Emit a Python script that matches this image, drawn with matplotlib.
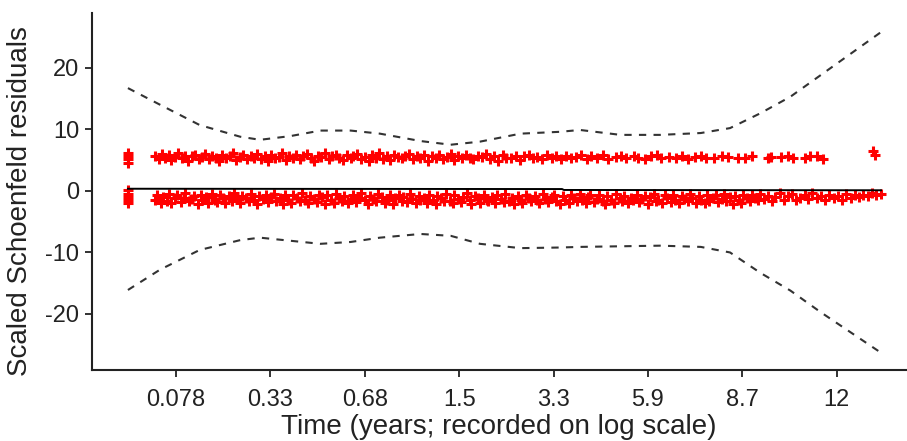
import matplotlib.pyplot as plt

plt.rcParams['font.family'] = ['Liberation Sans', 'DejaVu Sans']
plt.rcParams['axes.unicode_minus'] = False

# time axis is drawn on a transformed scale; labels give the real times in years
tick_pos = [1, 2, 3, 4, 5, 6, 7, 8]
tick_labels = ['0.078', '0.33', '0.68', '1.5', '3.3', '5.9', '8.7', '12']

# residuals tied at the first event time
tie_time = 0.49
tie_upper = [4.6, 5.1, 5.6, 6.1]
tie_lower = [0.1, -0.5, -1.0, -1.5, -2.0]

upper_time = [
    0.78, 0.82, 0.85, 0.88, 0.92, 0.95, 0.99, 1.02, 1.06, 1.09,
    1.13, 1.17, 1.20, 1.24, 1.27, 1.31, 1.35, 1.38, 1.42, 1.46,
    1.49, 1.53, 1.57, 1.60, 1.64, 1.68, 1.71, 1.75, 1.79, 1.83,
    1.86, 1.90, 1.94, 1.97, 2.01, 2.05, 2.09, 2.12, 2.16, 2.20,
    2.24, 2.27, 2.31, 2.35, 2.39, 2.43, 2.46, 2.50, 2.54, 2.58,
    2.62, 2.65, 2.69, 2.73, 2.77, 2.81, 2.85, 2.88, 2.92, 2.96,
    3.00, 3.04, 3.08, 3.12, 3.15, 3.19, 3.23, 3.27, 3.31, 3.35,
    3.39, 3.43, 3.47, 3.51, 3.55, 3.59, 3.63, 3.67, 3.71, 3.75,
    3.79, 3.83, 3.87, 3.91, 3.95, 3.99, 4.03, 4.07, 4.11, 4.15,
    4.20, 4.24, 4.28, 4.33, 4.37, 4.41, 4.46, 4.50, 4.55, 4.60,
    4.64, 4.69, 4.74, 4.78, 4.83, 4.88, 4.93, 4.98, 5.03, 5.08,
    5.13, 5.19, 5.24, 5.29, 5.35, 5.40, 5.46, 5.52, 5.58, 5.66,
    5.71, 5.77, 5.85, 5.90, 5.97, 6.03, 6.10, 6.14, 6.22, 6.30,
    6.36, 6.42, 6.50, 6.56, 6.62, 6.70, 6.78, 6.85, 6.95, 7.03,
    7.10, 7.27, 7.30, 7.41, 7.48, 7.54, 7.66, 7.72, 7.79, 7.86,
    8.39, 8.41,
]
upper_resid = [
    5.6, 5.1, 6.0, 5.4, 5.8, 5.0, 5.5, 6.1, 5.3, 5.7,
    4.9, 5.6, 5.9, 5.2, 5.5, 6.0, 5.1, 5.7, 5.4, 4.8,
    5.8, 5.3, 5.6, 6.1, 5.0, 5.5, 5.9, 5.2, 5.7, 5.4,
    6.0, 5.1, 5.6, 4.9, 5.8, 5.3, 5.5, 6.1, 5.0, 5.7,
    5.4, 5.9, 5.2, 5.6, 6.0, 5.3, 4.8, 5.7, 5.5, 6.2,
    5.1, 5.6, 5.9, 5.4, 5.0, 5.8, 5.3, 5.7, 6.0, 5.2,
    5.5, 4.9, 5.8, 5.4, 6.1, 5.2, 5.6, 5.0, 5.9, 5.5,
    5.3, 5.7, 6.0, 5.1, 5.6, 5.4, 5.9, 4.9, 5.7, 5.3,
    5.8, 5.2, 5.5, 6.0, 5.0, 5.6, 5.3, 5.9, 5.4, 5.1,
    5.7, 5.5, 6.0, 5.2, 5.6, 4.9, 5.8, 5.4, 5.3, 5.7,
    5.0, 5.6, 5.9, 5.3, 5.5, 5.1, 5.8, 5.4, 5.6, 5.2,
    5.7, 5.3, 5.5, 5.9, 5.1, 5.6, 5.4, 5.8, 5.2, 5.5,
    5.6, 5.3, 5.7, 5.4, 5.2, 5.6, 5.8, 5.3, 5.5, 5.4,
    5.7, 5.2, 5.5, 5.6, 5.3, 5.4, 5.6, 5.5, 5.3, 5.4,
    5.6, 5.4, 5.5, 5.5, 5.6, 5.4, 5.3, 5.6, 5.7, 5.2,
    6.4, 5.8,
]

lower_time = [
    0.78, 0.80, 0.84, 0.86, 0.90, 0.93, 0.95, 0.99, 1.01, 1.05,
    1.08, 1.10, 1.14, 1.17, 1.19, 1.23, 1.26, 1.28, 1.32, 1.34,
    1.38, 1.41, 1.43, 1.47, 1.50, 1.52, 1.56, 1.59, 1.61, 1.65,
    1.68, 1.70, 1.74, 1.77, 1.79, 1.83, 1.86, 1.88, 1.92, 1.95,
    1.97, 2.01, 2.04, 2.06, 2.10, 2.13, 2.15, 2.19, 2.22, 2.24,
    2.28, 2.31, 2.33, 2.37, 2.40, 2.42, 2.46, 2.49, 2.51, 2.55,
    2.58, 2.60, 2.64, 2.67, 2.69, 2.73, 2.76, 2.78, 2.82, 2.85,
    2.87, 2.91, 2.94, 2.96, 3.00, 3.03, 3.05, 3.09, 3.12, 3.14,
    3.18, 3.21, 3.23, 3.27, 3.30, 3.32, 3.36, 3.39, 3.41, 3.45,
    3.48, 3.50, 3.54, 3.57, 3.59, 3.63, 3.66, 3.68, 3.72, 3.75,
    3.77, 3.81, 3.84, 3.86, 3.90, 3.93, 3.95, 3.99, 4.02, 4.04,
    4.08, 4.11, 4.13, 4.17, 4.20, 4.22, 4.26, 4.29, 4.31, 4.35,
    4.38, 4.40, 4.44, 4.47, 4.49, 4.53, 4.56, 4.58, 4.62, 4.65,
    4.67, 4.71, 4.74, 4.76, 4.80, 4.83, 4.85, 4.89, 4.92, 4.94,
    4.98, 5.01, 5.03, 5.07, 5.10, 5.12, 5.16, 5.19, 5.21, 5.25,
    5.28, 5.30, 5.34, 5.37, 5.39, 5.43, 5.46, 5.48, 5.52, 5.55,
    5.57, 5.61, 5.64, 5.66, 5.70, 5.73, 5.75, 5.79, 5.82, 5.84,
    5.88, 5.91, 5.93, 5.97, 6.00, 6.02, 6.06, 6.09, 6.11, 6.15,
    6.18, 6.20, 6.24, 6.27, 6.29, 6.33, 6.36, 6.38, 6.42, 6.45,
    6.47, 6.51, 6.54, 6.56, 6.60, 6.63, 6.65, 6.69, 6.72, 6.74,
    6.78, 6.81, 6.83, 6.87, 6.90, 6.92, 6.96, 6.99, 7.01, 7.05,
    7.08, 7.10, 7.14, 7.17, 7.19, 7.23, 7.27, 7.31, 7.35, 7.40,
    7.44, 7.48, 7.53, 7.57, 7.61, 7.66, 7.70, 7.74, 7.79, 7.83,
    7.88, 7.92, 7.97, 8.01, 8.06, 8.10, 8.15, 8.19, 8.24, 8.28,
    8.33, 8.37, 8.42, 8.47,
]
lower_resid = [
    -1.4, -0.6, -1.9, -1.0, -1.6, -0.5, -2.0, -1.2, -0.7, -1.8,
    -1.1, -0.4, -1.7, -1.3, -0.8, -2.1, -0.6, -1.5, -1.0, -1.9,
    -0.5, -1.4, -1.8, -0.7, -1.2, -2.0, -0.9, -1.6, -0.4, -1.3,
    -1.9, -0.8, -1.1, -1.7, -0.5, -1.5, -2.1, -0.9, -1.3, -0.6,
    -1.8, -1.0, -0.5, -1.6, -1.2, -2.2, -0.7, -1.4, -1.9, -0.6,
    -1.1, -1.7, -0.4, -1.5, -2.0, -0.8, -1.3, -1.8, -0.6, -1.0,
    -2.1, -0.7, -1.4, -1.9, -0.5, -1.2, -1.6, -0.9, -2.0, -1.3,
    -0.6, -1.8, -1.1, -0.4, -1.5, -2.1, -0.8, -1.3, -1.7, -0.5,
    -1.0, -1.9, -1.4, -0.7, -2.2, -1.2, -0.6, -1.6, -1.0, -1.8,
    -0.5, -1.3, -2.0, -0.8, -1.5, -1.1, -1.9, -0.6, -1.4, -2.1,
    -0.9, -1.2, -1.7, -0.5, -1.6, -2.0, -0.7, -1.3, -1.8, -1.0,
    -0.4, -1.5, -2.1, -0.8, -1.2, -1.9, -0.6, -1.4, -1.7, -1.0,
    -2.0, -0.7, -1.3, -1.8, -0.5, -1.6, -1.1, -2.2, -0.8, -1.4,
    -1.9, -0.6, -1.2, -1.7, -0.9, -1.5, -2.0, -0.5, -1.3, -1.8,
    -1.0, -0.6, -1.6, -2.1, -0.8, -1.4, -1.9, -0.7, -1.2, -1.7,
    -0.5, -1.5, -2.0, -1.0, -0.7, -1.8, -1.3, -0.6, -1.6, -2.1,
    -0.9, -1.4, -1.9, -0.5, -1.2, -1.7, -0.8, -2.0, -1.1, -1.5,
    -0.6, -1.8, -1.3, -0.9, -2.1, -1.0, -0.5, -1.6, -1.4, -1.9,
    -0.7, -1.2, -1.8, -0.6, -1.5, -2.0, -0.9, -1.3, -1.7, -0.5,
    -1.1, -1.9, -0.8, -1.4, -2.0, -0.6, -1.6, -1.2, -0.7, -1.8,
    -1.3, -0.5, -1.7, -1.0, -2.1, -0.8, -1.4, -1.9, -0.6, -1.2,
    -1.6, -0.7, -1.1, -1.5, -0.5, -1.3, -0.8, -1.6, -1.0, -0.4,
    -1.4, -0.9, -0.5, -1.5, -1.1, -0.7, -1.3, -0.4, -1.2, -0.8,
    -1.5, -0.6, -1.1, -0.9, -1.4, -0.5, -1.2, -0.7, -1.0, -0.6,
    -0.9, -0.4, -0.7, -0.5,
]

# smoothed beta(t) with its confidence limits
fit_time = [0.49, 2.0, 4.0, 5.09, 5.11, 7.0, 8.47]
fit_beta = [0.35, 0.33, 0.31, 0.30, 0.15, 0.12, 0.10]

ci_time = [0.49, 0.83, 1.25, 1.68, 1.89, 2.21, 2.53, 2.85, 3.16, 3.59, 3.91,
           4.22, 4.65, 5.07, 5.28, 5.71, 6.13, 6.56, 6.87, 7.19, 7.51, 7.83,
           8.15, 8.47]
ci_upper = [16.7, 14.0, 10.7, 8.8, 8.3, 8.9, 9.8, 9.8, 9.3, 8.1, 7.5,
            8.0, 9.3, 9.6, 9.9, 9.1, 9.1, 9.4, 10.2, 12.6, 15.3, 18.8,
            22.3, 25.8]
ci_lower = [-16.1, -12.8, -9.6, -8.0, -7.6, -8.1, -8.6, -8.3, -7.6, -7.0, -7.3,
            -8.6, -9.3, -9.2, -9.1, -9.0, -8.9, -9.1, -10.0, -13.3, -16.2, -19.7,
            -23.0, -26.3]

fig = plt.figure(figsize=(9.07, 4.41), dpi=100)
ax = fig.add_axes([0.1014, 0.161, 0.897, 0.8095])

pt = dict(linestyle='none', marker='+', color='red', markersize=7, markeredgewidth=2.2)
ax.plot([tie_time] * len(tie_upper), tie_upper, **pt)
ax.plot([tie_time] * len(tie_lower), tie_lower, **pt)
ax.plot(upper_time, upper_resid, **pt)
ax.plot(lower_time, lower_resid, **pt)

ax.plot(fit_time, fit_beta, color='black', linewidth=1.4)
ax.plot(ci_time, ci_upper, color='#333333', linewidth=1.5, dashes=(3.5, 3.5))
ax.plot(ci_time, ci_lower, color='#333333', linewidth=1.5, dashes=(3.5, 3.5))

ax.set_xlim(0.109, 8.73)
ax.set_ylim(-29.1, 28.9)
ax.set_xticks(tick_pos)
ax.set_xticklabels(tick_labels)
ax.set_yticks([-20, -10, 0, 10, 20])

for side in ('top', 'right'):
    ax.spines[side].set_visible(False)
for side in ('left', 'bottom'):
    ax.spines[side].set_linewidth(1.5)
    ax.spines[side].set_color('#222222')
ax.tick_params(direction='out', length=5, width=1.3, color='#222222',
               labelsize=17, labelcolor='#222222')
ax.tick_params(axis='x', pad=9)
ax.tick_params(axis='y', pad=4)

ax.set_xlabel('Time (years; recorded on log scale)', fontsize=20, color='#222222', labelpad=2)
ax.set_ylabel('Scaled Schoenfeld residuals', fontsize=20, color='#222222')
ax.yaxis.set_label_coords(-0.0725, 0.472)

fig.savefig('out.png', dpi=100)
